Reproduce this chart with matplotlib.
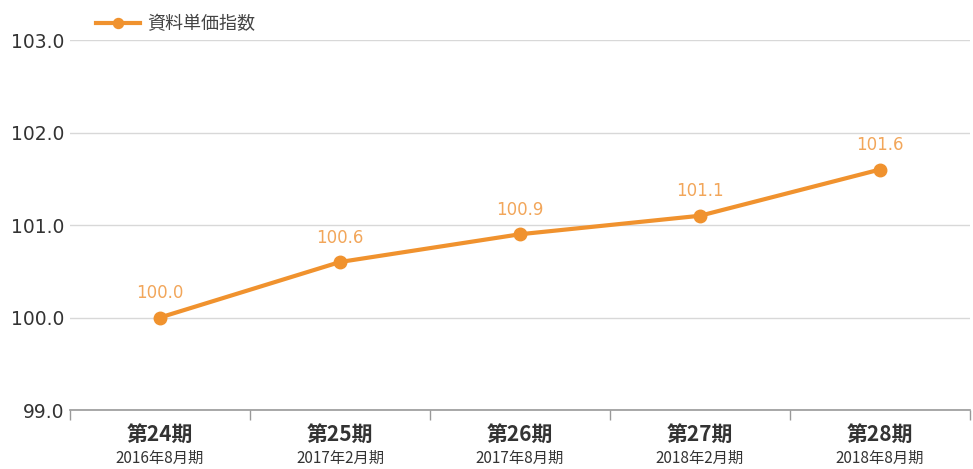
import numpy as np
import matplotlib
matplotlib.use("Agg")
import matplotlib.pyplot as plt

plt.rcParams['font.family'] = ['Noto Sans CJK JP', 'DejaVu Sans']

# --- data ---
periods = ["第24期", "第25期", "第26期", "第27期", "第28期"]
months = ["2016年8月期", "2017年2月期", "2017年8月期", "2018年2月期", "2018年8月期"]
values = [100.0, 100.6, 100.9, 101.1, 101.6]
yticks = [99, 100, 101, 102, 103]
series_name = "資料単価指数"

line_color = "#f0922e"
label_color = "#f2a65a"
text_gray = "#444444"

fig = plt.figure(figsize=(9.73, 4.69), dpi=100)
ax = fig.add_axes([70 / 973, 59 / 469, 900 / 973, 370 / 469])

x = np.arange(len(values))
ax.plot(x, values, color=line_color, lw=3, marker="o", ms=9,
        markerfacecolor=line_color, markeredgecolor=line_color,
        label=series_name, zorder=3)
for xi, v in zip(x, values):
    ax.annotate(f"{v:.1f}", (xi, v), xytext=(0, 11), textcoords="offset points",
                ha="center", va="bottom", fontsize=12, color=label_color,
                family="DejaVu Sans")

ax.set_xlim(-0.5, len(values) - 0.5)
ax.set_ylim(yticks[0], yticks[-1])
ax.set_yticks(yticks)
ax.set_yticklabels([f"{t:.1f}" for t in yticks], fontsize=13.5,
                   color="#333333", family="DejaVu Sans")
ax.tick_params(axis="y", length=0, pad=4)
ax.yaxis.grid(True, color="#d8d8d8", lw=1)
ax.set_axisbelow(True)

# category ticks at boundaries, labels at centres
ax.set_xticks(x)
ax.set_xticklabels([])
ax.tick_params(axis="x", which="major", length=0)
ax.set_xticks(np.arange(-0.5, len(values)), minor=True)
ax.tick_params(axis="x", which="minor", length=7, color="#999999", width=1)
for xi, p, m in zip(x, periods, months):
    ax.text(xi, -0.065, p, transform=ax.get_xaxis_transform(), ha="center",
            va="center", fontsize=15, fontweight="bold", color="#333333")
    ax.text(xi, -0.132, m, transform=ax.get_xaxis_transform(), ha="center",
            va="center", fontsize=11, color="#333333")

for s in ["left", "right", "top"]:
    ax.spines[s].set_visible(False)
ax.spines["bottom"].set_color("#999999")
ax.spines["bottom"].set_linewidth(1.2)

leg = ax.legend(loc="upper left", bbox_to_anchor=(10 / 900, 1.11), frameon=False,
                handlelength=2.4, handletextpad=0.4, prop={"size": 13},
                labelcolor=text_gray, markerscale=0.8)

fig.savefig("out.png", dpi=100, facecolor="white")
